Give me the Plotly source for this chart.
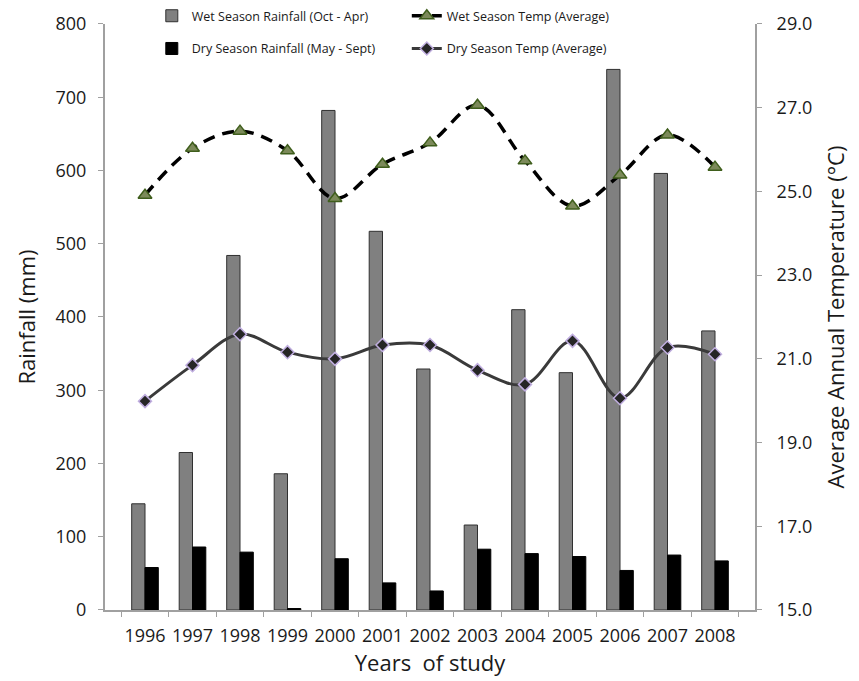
import plotly.graph_objects as go

years = ["1996", "1997", "1998", "1999", "2000", "2001", "2002",
         "2003", "2004", "2005", "2006", "2007", "2008"]
wet_rain = [145, 215, 484, 186, 682, 517, 329, 116, 410, 324, 738, 596, 381]
dry_rain = [58, 86, 79, 2, 70, 37, 26, 83, 77, 73, 54, 75, 67]
wet_temp = [24.91, 26.03, 26.44, 25.97, 24.83, 25.65, 26.16, 27.06, 25.73, 24.65, 25.39, 26.35, 25.58]
dry_temp = [19.99, 20.85, 21.59, 21.16, 21.00, 21.33, 21.33, 20.73, 20.39, 21.43, 20.06, 21.27, 21.11]

FONT = "Open Sans"
TXT = "#1a1a1a"
AX = "#a0a0a0"

fig = go.Figure()

fig.add_trace(go.Bar(
    x=years, y=wet_rain, name="Wet Season Rainfall (Oct - Apr)",
    marker=dict(color="#808080", line=dict(color="#303030", width=1)),
    legend="legend", legendrank=1,
))
fig.add_trace(go.Bar(
    x=years, y=dry_rain, name="Dry Season Rainfall (May - Sept)",
    marker=dict(color="#000000", line=dict(color="#000000", width=1)),
    legend="legend2", legendrank=1,
))
fig.add_trace(go.Scatter(
    x=years, y=wet_temp, yaxis="y2", name="Wet Season Temp (Average)",
    mode="lines+markers",
    line=dict(color="#000000", width=3.5, dash="12px,8px", shape="spline", smoothing=1),
    marker=dict(symbol="triangle-up", size=12, color="#7c8a5a",
                line=dict(color="#3f5e1c", width=1.5)),
    legend="legend", legendrank=2,
))
fig.add_trace(go.Scatter(
    x=years, y=dry_temp, yaxis="y2", name="Dry Season Temp (Average)",
    mode="lines+markers",
    line=dict(color="#3a3a3a", width=3, shape="spline", smoothing=1),
    marker=dict(symbol="diamond", size=10, color="#262626",
                line=dict(color="#c0aee0", width=1.5)),
    legend="legend2", legendrank=2,
))

leg_common = dict(
    orientation="h", xanchor="left", yanchor="middle",
    bgcolor="rgba(0,0,0,0)", font=dict(family=FONT, size=12.5, color=TXT),
    entrywidth=210, entrywidthmode="pixels", traceorder="normal",
)

TOP_DOMAIN = 0.967

fig.update_layout(
    width=859, height=681,
    margin=dict(l=105, r=104, t=4, b=71, autoexpand=False),
    paper_bgcolor="white", plot_bgcolor="white",
    barmode="group", bargap=0.44, bargroupgap=0,
    font=dict(family=FONT, color=TXT),
    showlegend=True,
    legend=dict(x=0.072, y=0.980, **leg_common),
    legend2=dict(x=0.072, y=0.926, **leg_common),
    xaxis=dict(
        type="category", tickson="boundaries", ticks="outside", ticklen=5,
        tickcolor=AX, showline=True, linecolor=AX, linewidth=2, automargin=False,
        showgrid=False, tickfont=dict(family=FONT, size=18, color=TXT),
        tickangle=0, ticklabelstandoff=8,
        title=dict(text="Years  of study", font=dict(family=FONT, size=22, color=TXT),
                   standoff=9),
    ),
    yaxis=dict(
        domain=[0, TOP_DOMAIN], automargin=False,
        range=[0, 800], dtick=100, ticks="outside", ticklen=5, tickcolor=AX,
        showline=True, linecolor=AX, linewidth=2, showgrid=False, zeroline=False,
        tickfont=dict(family=FONT, size=18, color=TXT), ticklabelstandoff=8,
        title=dict(text="Rainfall (mm)", font=dict(family=FONT, size=22, color=TXT),
                   standoff=14),
    ),
    yaxis2=dict(
        domain=[0, TOP_DOMAIN], automargin=False,
        range=[15, 29], tick0=15, dtick=2, tickformat=".1f", overlaying="y", side="right",
        ticks="outside", ticklen=5, tickcolor=AX, showline=True, linecolor=AX,
        linewidth=2, showgrid=False, zeroline=False,
        tickfont=dict(family=FONT, size=18, color=TXT), ticklabelstandoff=11,
        title=dict(text="Average Annual Temperature (°C)",
                   font=dict(family=FONT, size=22, color=TXT), standoff=17),
    ),
)

fig.write_html("out.html")
